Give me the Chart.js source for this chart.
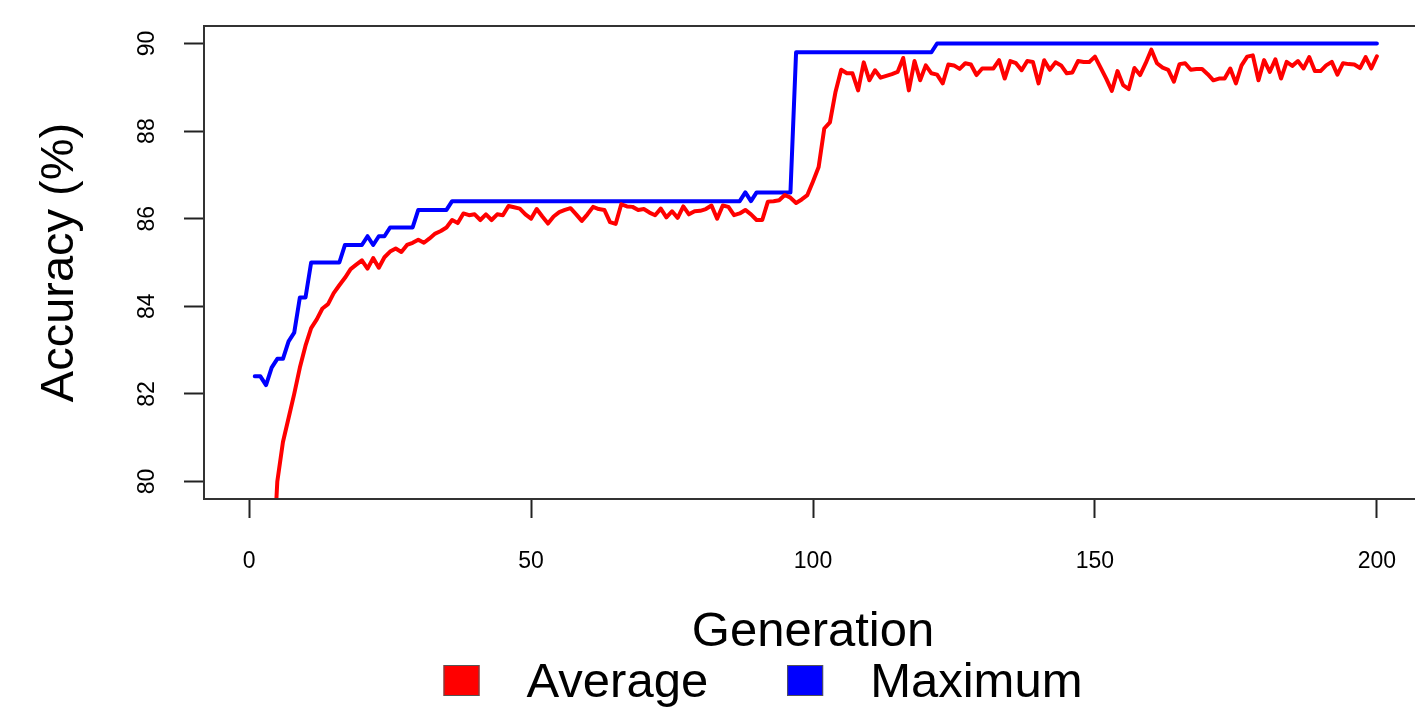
<!DOCTYPE html>
<html>
<head>
    <title>Accuracy by generation</title>
    <meta charset="UTF-8">
    <style>
        html, body {
            margin: 0;
            padding: 0;
            overflow: hidden;
            background: #fff;
        }
        #chartContainer {
            width: 1430px;
            height: 708px;
        }
    </style>
</head>
<body>
<div id="chartContainer">
    <canvas id="myChart" width="1430" height="708"></canvas>
</div>

<script src="https://cdn.jsdelivr.net/npm/chart.js@4.4.0/dist/chart.umd.min.js"></script>
<script>
    // mean accuracy of the population per generation (gens 1-3 fall below the plot)
    var average = [
        null, null, null, 77.5, 80.0, 80.9, 81.45, 82.0, 82.6, 83.1,
        83.5, 83.7, 83.95, 84.05, 84.3, 84.48, 84.65, 84.85, 84.95, 85.05,
        84.86, 85.1, 84.88, 85.12, 85.25, 85.32, 85.24, 85.4, 85.45, 85.52,
        85.45, 85.55, 85.66, 85.72, 85.8, 85.97, 85.9, 86.12, 86.08, 86.1,
        85.97, 86.1, 85.97, 86.1, 86.08, 86.29, 86.26, 86.23, 86.1, 86.0,
        86.22, 86.05, 85.89, 86.05, 86.15, 86.2, 86.24, 86.1, 85.95, 86.1,
        86.27, 86.22, 86.2, 85.92, 85.88, 86.33, 86.28, 86.27, 86.2, 86.22,
        86.14, 86.08, 86.23, 86.03, 86.17, 86.02, 86.28, 86.1, 86.17, 86.18,
        86.22, 86.3, 86.0, 86.3, 86.27, 86.08, 86.12, 86.2, 86.1, 85.97,
        85.97, 86.39, 86.4, 86.42, 86.54, 86.48, 86.36, 86.44, 86.54, 86.85,
        87.18, 88.06, 88.2, 88.9, 89.4, 89.32, 89.32, 88.93, 89.57, 89.16,
        89.39, 89.22, 89.26, 89.3, 89.35, 89.67, 88.93, 89.6, 89.16, 89.5,
        89.32, 89.29, 89.09, 89.52, 89.5, 89.42, 89.55, 89.52, 89.28, 89.43,
        89.43, 89.43, 89.62, 89.2, 89.6, 89.55, 89.39, 89.6, 89.58, 89.09,
        89.62, 89.4, 89.57, 89.5, 89.32, 89.34, 89.6, 89.58, 89.58, 89.7,
        89.45, 89.2, 88.92, 89.37, 89.05, 88.96, 89.44, 89.28, 89.55, 89.86,
        89.55, 89.45, 89.4, 89.13, 89.53, 89.55, 89.4, 89.42, 89.42, 89.3,
        89.16, 89.2, 89.2, 89.43, 89.09, 89.5, 89.7, 89.73, 89.16, 89.62,
        89.35, 89.64, 89.2, 89.58, 89.49, 89.6, 89.43, 89.69, 89.37, 89.37,
        89.5, 89.58, 89.29, 89.55, 89.53, 89.52, 89.44, 89.69, 89.43, 89.71
    ];

    // best individual per generation
    var maximum = [
        82.4, 82.4, 82.2, 82.6, 82.8, 82.8, 83.2, 83.4, 84.2, 84.2,
        85.0, 85.0, 85.0, 85.0, 85.0, 85.0, 85.4, 85.4, 85.4, 85.4,
        85.6, 85.4, 85.6, 85.6, 85.8, 85.8, 85.8, 85.8, 85.8, 86.2,
        86.2, 86.2, 86.2, 86.2, 86.2, 86.4, 86.4, 86.4, 86.4, 86.4,
        86.4, 86.4, 86.4, 86.4, 86.4, 86.4, 86.4, 86.4, 86.4, 86.4,
        86.4, 86.4, 86.4, 86.4, 86.4, 86.4, 86.4, 86.4, 86.4, 86.4,
        86.4, 86.4, 86.4, 86.4, 86.4, 86.4, 86.4, 86.4, 86.4, 86.4,
        86.4, 86.4, 86.4, 86.4, 86.4, 86.4, 86.4, 86.4, 86.4, 86.4,
        86.4, 86.4, 86.4, 86.4, 86.4, 86.4, 86.4, 86.6, 86.4, 86.6,
        86.6, 86.6, 86.6, 86.6, 86.6, 86.6, 89.8, 89.8, 89.8, 89.8,
        89.8, 89.8, 89.8, 89.8, 89.8, 89.8, 89.8, 89.8, 89.8, 89.8,
        89.8, 89.8, 89.8, 89.8, 89.8, 89.8, 89.8, 89.8, 89.8, 89.8,
        89.8, 90.0, 90.0, 90.0, 90.0, 90.0, 90.0, 90.0, 90.0, 90.0,
        90.0, 90.0, 90.0, 90.0, 90.0, 90.0, 90.0, 90.0, 90.0, 90.0,
        90.0, 90.0, 90.0, 90.0, 90.0, 90.0, 90.0, 90.0, 90.0, 90.0,
        90.0, 90.0, 90.0, 90.0, 90.0, 90.0, 90.0, 90.0, 90.0, 90.0,
        90.0, 90.0, 90.0, 90.0, 90.0, 90.0, 90.0, 90.0, 90.0, 90.0,
        90.0, 90.0, 90.0, 90.0, 90.0, 90.0, 90.0, 90.0, 90.0, 90.0,
        90.0, 90.0, 90.0, 90.0, 90.0, 90.0, 90.0, 90.0, 90.0, 90.0,
        90.0, 90.0, 90.0, 90.0, 90.0, 90.0, 90.0, 90.0, 90.0, 90.0
    ];

    var seriesNames = ['Average', 'Maximum'];
    var xTicks = [0, 50, 100, 150, 200];
    var yTicks = [80, 82, 84, 86, 88, 90];

    var fontFamily = '"Liberation Sans", Arial, Helvetica, sans-serif';

    function toPoints(values) {
        return values.map(function (v, i) {
            return {x: i + 1, y: v};
        });
    }

    // R-style box, rotated y tick labels and the legend under the axis title
    var rDecor = {
        id: 'rDecor',
        afterDraw: function (chart) {
            var ctx = chart.ctx;
            var area = chart.chartArea;
            var yScale = chart.scales.y;

            ctx.save();
            ctx.strokeStyle = '#333';
            ctx.lineWidth = 2;
            ctx.strokeRect(area.left, area.top, area.right - area.left, area.bottom - area.top);

            ctx.fillStyle = '#000';
            ctx.font = '23px ' + fontFamily;
            ctx.textAlign = 'center';
            ctx.textBaseline = 'middle';
            yTicks.forEach(function (v) {
                ctx.save();
                ctx.translate(148, yScale.getPixelForValue(v));
                ctx.rotate(-Math.PI / 2);
                ctx.fillText(String(v), 0, 0);
                ctx.restore();
            });

            // legend
            ctx.font = '49px ' + fontFamily;
            ctx.textAlign = 'left';
            ctx.textBaseline = 'alphabetic';
            var boxW = 36, boxH = 31, boxGap = 47, itemGap = 79;
            var widths = chart.data.datasets.map(function (ds) {
                return ctx.measureText(ds.label).width;
            });
            var total = 0;
            widths.forEach(function (w, i) {
                total += boxW + boxGap + w + (i > 0 ? itemGap : 0);
            });
            var x = 763 - total / 2;
            chart.data.datasets.forEach(function (ds, i) {
                ctx.fillStyle = ds.borderColor;
                ctx.fillRect(x, 665, boxW, boxH);
                ctx.strokeStyle = '#555';
                ctx.lineWidth = 1;
                ctx.strokeRect(x + 0.5, 665.5, boxW - 1, boxH - 1);
                ctx.fillStyle = '#000';
                ctx.fillText(ds.label, x + boxW + boxGap, 697);
                x += boxW + boxGap + widths[i] + itemGap;
            });
            ctx.restore();
        }
    };

    var ctx = document.getElementById('myChart');
    var myChart = new Chart(ctx, {
        type: 'line',
        data: {
            datasets: [
                {
                    label: seriesNames[0],
                    data: toPoints(average),
                    borderColor: '#ff0000',
                    backgroundColor: '#ff0000',
                    borderWidth: 4,
                    pointRadius: 0,
                    tension: 0,
                    borderJoinStyle: 'round',
                    borderCapStyle: 'round',
                    clip: 0
                },
                {
                    label: seriesNames[1],
                    data: toPoints(maximum),
                    borderColor: '#0000ff',
                    backgroundColor: '#0000ff',
                    borderWidth: 4,
                    pointRadius: 0,
                    tension: 0,
                    borderJoinStyle: 'round',
                    borderCapStyle: 'round',
                    clip: 0
                }
            ]
        },
        options: {
            responsive: false,
            devicePixelRatio: 1,
            animation: false,
            events: [],
            layout: {
                padding: {top: 26, right: 8, bottom: 0, left: 0}
            },
            plugins: {
                legend: {display: false},
                tooltip: {enabled: false}
            },
            scales: {
                x: {
                    type: 'linear',
                    min: -8,
                    max: 208,
                    afterBuildTicks: function (scale) {
                        scale.ticks = xTicks.map(function (v) { return {value: v}; });
                    },
                    afterFit: function (scale) {
                        scale.height = 209;
                    },
                    border: {display: false},
                    grid: {
                        drawOnChartArea: false,
                        drawTicks: true,
                        tickLength: 19,
                        tickColor: '#222',
                        tickWidth: 2
                    },
                    ticks: {
                        color: '#000',
                        padding: 30,
                        maxRotation: 0,
                        autoSkip: false,
                        font: {family: fontFamily, size: 23}
                    },
                    title: {
                        display: true,
                        text: 'Generation',
                        color: '#000',
                        font: {family: fontFamily, size: 49},
                        padding: {top: 0, bottom: 46}
                    }
                },
                y: {
                    type: 'linear',
                    min: 79.6,
                    max: 90.4,
                    afterBuildTicks: function (scale) {
                        scale.ticks = yTicks.map(function (v) { return {value: v}; });
                    },
                    afterFit: function (scale) {
                        scale.width = 204;
                    },
                    border: {display: false},
                    grid: {
                        drawOnChartArea: false,
                        drawTicks: true,
                        tickLength: 20,
                        tickColor: '#222',
                        tickWidth: 2
                    },
                    ticks: {display: false},
                    title: {
                        display: true,
                        text: 'Accuracy (%)',
                        color: '#000',
                        font: {family: fontFamily, size: 47},
                        padding: {top: 32, bottom: 0}
                    }
                }
            }
        },
        plugins: [rDecor]
    });
</script>
</body>
</html>
